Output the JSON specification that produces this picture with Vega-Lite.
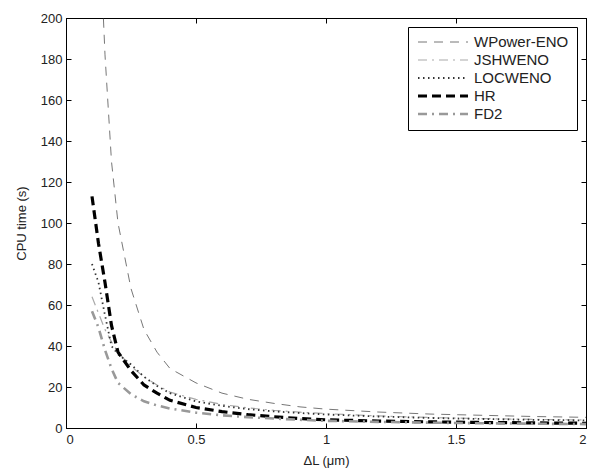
{
  "$schema": "https://vega.github.io/schema/vega-lite/v6.json",
  "autosize": "none",
  "width": 520,
  "height": 410,
  "padding": {"left": 66, "top": 18, "right": 6, "bottom": 42},
  "background": "white",
  "config": {
    "font": "Liberation Sans",
    "view": {"stroke": "black", "strokeWidth": 1},
    "axis": {"labelFont": "Liberation Sans", "titleFont": "Liberation Sans", "labelFontSize": 13, "titleFontSize": 13, "titleFontWeight": "normal", "labelColor": "#222", "titleColor": "#222", "domainColor": "black", "tickColor": "black", "grid": false, "tickSize": -5, "tickWidth": 1}
  },
  "data": {"values": [
    {"s": "WPower-ENO", "x": 0.1, "y": 340}, {"s": "WPower-ENO", "x": 0.125, "y": 255}, {"s": "WPower-ENO", "x": 0.15, "y": 182}, {"s": "WPower-ENO", "x": 0.175, "y": 130}, {"s": "WPower-ENO", "x": 0.2, "y": 100}, {"s": "WPower-ENO", "x": 0.25, "y": 68}, {"s": "WPower-ENO", "x": 0.3, "y": 48}, {"s": "WPower-ENO", "x": 0.35, "y": 37}, {"s": "WPower-ENO", "x": 0.4, "y": 29}, {"s": "WPower-ENO", "x": 0.5, "y": 22}, {"s": "WPower-ENO", "x": 0.6, "y": 17}, {"s": "WPower-ENO", "x": 0.7, "y": 14}, {"s": "WPower-ENO", "x": 0.8, "y": 12}, {"s": "WPower-ENO", "x": 0.9, "y": 10.3}, {"s": "WPower-ENO", "x": 1.0, "y": 9.2}, {"s": "WPower-ENO", "x": 1.2, "y": 7.8}, {"s": "WPower-ENO", "x": 1.4, "y": 6.8}, {"s": "WPower-ENO", "x": 1.6, "y": 6.2}, {"s": "WPower-ENO", "x": 1.8, "y": 5.6}, {"s": "WPower-ENO", "x": 2.0, "y": 5.2},
    {"s": "JSHWENO", "x": 0.1, "y": 64}, {"s": "JSHWENO", "x": 0.125, "y": 56}, {"s": "JSHWENO", "x": 0.15, "y": 48}, {"s": "JSHWENO", "x": 0.175, "y": 42}, {"s": "JSHWENO", "x": 0.2, "y": 37}, {"s": "JSHWENO", "x": 0.25, "y": 30}, {"s": "JSHWENO", "x": 0.3, "y": 25}, {"s": "JSHWENO", "x": 0.35, "y": 21}, {"s": "JSHWENO", "x": 0.4, "y": 17.5}, {"s": "JSHWENO", "x": 0.5, "y": 14}, {"s": "JSHWENO", "x": 0.6, "y": 11.5}, {"s": "JSHWENO", "x": 0.7, "y": 9.8}, {"s": "JSHWENO", "x": 0.8, "y": 8.6}, {"s": "JSHWENO", "x": 0.9, "y": 7.7}, {"s": "JSHWENO", "x": 1.0, "y": 7}, {"s": "JSHWENO", "x": 1.2, "y": 5.9}, {"s": "JSHWENO", "x": 1.4, "y": 5.1}, {"s": "JSHWENO", "x": 1.6, "y": 4.6}, {"s": "JSHWENO", "x": 1.8, "y": 4.2}, {"s": "JSHWENO", "x": 2.0, "y": 3.9},
    {"s": "LOCWENO", "x": 0.1, "y": 80}, {"s": "LOCWENO", "x": 0.125, "y": 71}, {"s": "LOCWENO", "x": 0.15, "y": 55}, {"s": "LOCWENO", "x": 0.175, "y": 40}, {"s": "LOCWENO", "x": 0.2, "y": 36}, {"s": "LOCWENO", "x": 0.25, "y": 31}, {"s": "LOCWENO", "x": 0.3, "y": 25}, {"s": "LOCWENO", "x": 0.35, "y": 20.5}, {"s": "LOCWENO", "x": 0.4, "y": 17}, {"s": "LOCWENO", "x": 0.5, "y": 13}, {"s": "LOCWENO", "x": 0.6, "y": 10.8}, {"s": "LOCWENO", "x": 0.7, "y": 9.2}, {"s": "LOCWENO", "x": 0.8, "y": 8.1}, {"s": "LOCWENO", "x": 0.9, "y": 7.3}, {"s": "LOCWENO", "x": 1.0, "y": 6.6}, {"s": "LOCWENO", "x": 1.2, "y": 5.6}, {"s": "LOCWENO", "x": 1.4, "y": 4.9}, {"s": "LOCWENO", "x": 1.6, "y": 4.4}, {"s": "LOCWENO", "x": 1.8, "y": 4.0}, {"s": "LOCWENO", "x": 2.0, "y": 3.7},
    {"s": "HR", "x": 0.1, "y": 113}, {"s": "HR", "x": 0.125, "y": 90}, {"s": "HR", "x": 0.15, "y": 71}, {"s": "HR", "x": 0.175, "y": 50}, {"s": "HR", "x": 0.2, "y": 37}, {"s": "HR", "x": 0.25, "y": 28}, {"s": "HR", "x": 0.3, "y": 21}, {"s": "HR", "x": 0.35, "y": 17}, {"s": "HR", "x": 0.4, "y": 13.5}, {"s": "HR", "x": 0.5, "y": 10}, {"s": "HR", "x": 0.6, "y": 8}, {"s": "HR", "x": 0.7, "y": 6.5}, {"s": "HR", "x": 0.8, "y": 5.5}, {"s": "HR", "x": 0.9, "y": 4.6}, {"s": "HR", "x": 1.0, "y": 4}, {"s": "HR", "x": 1.2, "y": 3.4}, {"s": "HR", "x": 1.4, "y": 3}, {"s": "HR", "x": 1.6, "y": 2.7}, {"s": "HR", "x": 1.8, "y": 2.5}, {"s": "HR", "x": 2.0, "y": 2.3},
    {"s": "FD2", "x": 0.1, "y": 57}, {"s": "FD2", "x": 0.125, "y": 49}, {"s": "FD2", "x": 0.15, "y": 38}, {"s": "FD2", "x": 0.175, "y": 29}, {"s": "FD2", "x": 0.2, "y": 22}, {"s": "FD2", "x": 0.25, "y": 16.5}, {"s": "FD2", "x": 0.3, "y": 13}, {"s": "FD2", "x": 0.35, "y": 11}, {"s": "FD2", "x": 0.4, "y": 9.5}, {"s": "FD2", "x": 0.5, "y": 7.5}, {"s": "FD2", "x": 0.6, "y": 6.2}, {"s": "FD2", "x": 0.7, "y": 5.3}, {"s": "FD2", "x": 0.8, "y": 4.6}, {"s": "FD2", "x": 0.9, "y": 4}, {"s": "FD2", "x": 1.0, "y": 3.5}, {"s": "FD2", "x": 1.2, "y": 3}, {"s": "FD2", "x": 1.4, "y": 2.6}, {"s": "FD2", "x": 1.6, "y": 2.3}, {"s": "FD2", "x": 1.8, "y": 2.1}, {"s": "FD2", "x": 2.0, "y": 1.9}
  ]},
  "layer": [
    {
      "mark": {"type": "line", "clip": true},
      "encoding": {
        "x": {"field": "x", "type": "quantitative", "scale": {"domain": [0, 2], "nice": false}, "axis": {"title": "ΔL (μm)", "values": [0, 0.5, 1, 1.5, 2], "format": "~g", "labelPadding": 10, "titlePadding": 8}},
        "y": {"field": "y", "type": "quantitative", "scale": {"domain": [0, 200], "nice": false, "zero": true}, "axis": {"title": "CPU time (s)", "values": [0, 20, 40, 60, 80, 100, 120, 140, 160, 180, 200], "labelPadding": 9, "titlePadding": 12}},
        "detail": {"field": "s"},
        "color": {"field": "s", "type": "nominal", "scale": {"domain": ["WPower-ENO", "JSHWENO", "LOCWENO", "HR", "FD2"], "range": ["#777777", "#aaaaaa", "#333333", "#000000", "#999999"]}, "legend": {"title": null, "orient": "none", "legendX": 342, "legendY": 9, "symbolType": "stroke", "symbolSize": 2500, "clipHeight": 14, "labelFontSize": 15, "labelFont": "Liberation Sans", "labelColor": "#222", "rowPadding": 3, "padding": 8, "strokeColor": "black", "fillColor": "white", "cornerRadius": 0, "labelOffset": 4}},
        "strokeDash": {"field": "s", "type": "nominal", "scale": {"domain": ["WPower-ENO", "JSHWENO", "LOCWENO", "HR", "FD2"], "range": [[9, 7], [9, 5, 2, 5], [1.5, 3.5], [9, 5], [9, 5, 2, 5]]}, "legend": {"title": null}},
        "strokeWidth": {"field": "s", "type": "ordinal", "scale": {"type": "ordinal", "domain": ["WPower-ENO", "JSHWENO", "LOCWENO", "HR", "FD2"], "range": [1, 1.2, 1.8, 3.2, 2.6]}, "legend": {"title": null}}
      }
    },
    {
      "mark": {"type": "line", "opacity": 0},
      "encoding": {
        "x": {"field": "x", "type": "quantitative", "axis": {"orient": "top", "labels": false, "title": null, "values": [0, 0.5, 1, 1.5, 2]}},
        "y": {"field": "y", "type": "quantitative", "axis": {"orient": "right", "labels": false, "title": null, "values": [0, 20, 40, 60, 80, 100, 120, 140, 160, 180, 200]}},
        "detail": {"field": "s"}
      }
    }
  ],
  "resolve": {"axis": {"x": "independent", "y": "independent"}}
}
